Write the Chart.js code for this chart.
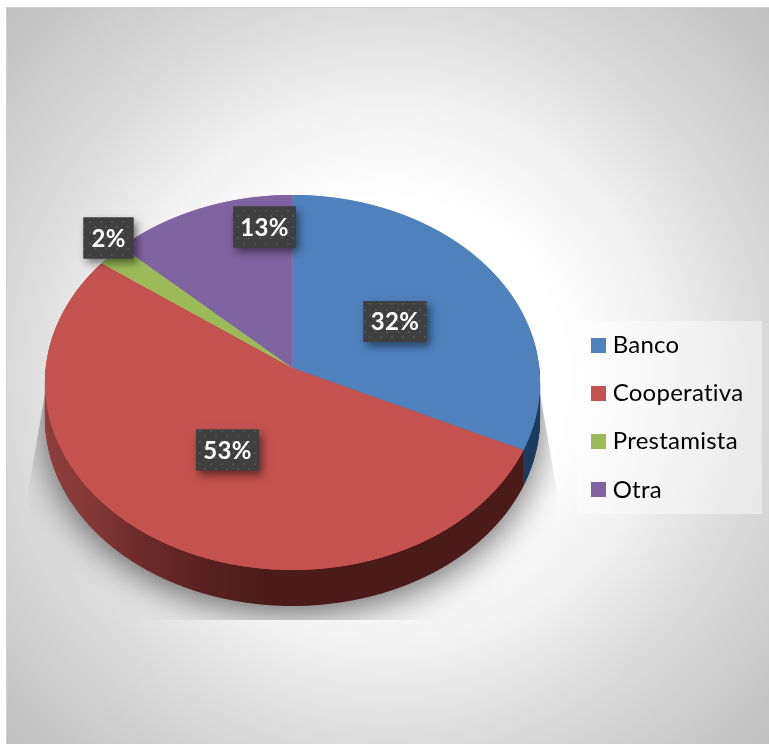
<!DOCTYPE html>
<html>
<head>
<meta charset="utf-8">
<script src="https://cdn.jsdelivr.net/npm/chart.js@4/dist/chart.umd.min.js"></script>
<style>html,body{margin:0;padding:0;background:#fff}canvas{display:block}</style>
</head>
<body>
<canvas id="c" width="769" height="744"></canvas>
<script>
const categories = ['Banco', 'Cooperativa', 'Prestamista', 'Otra'];
const values = [32, 53, 2, 13];
const valueLabels = ['32%', '53%', '2%', '13%'];
const sliceColors = ['#4f81bd', '#c4524f', '#9bbb59', '#8064a2'];
const wallColors = ['#1b3a5e', '#4b1b1a', '#5d7036', '#4c3c61'];

const labelOffsets = [[102.5, -46.5], [-65, 82], [-184, -130], [-28, -141]];
const LABEL_BOX = {w3: 63, w2: 50, h: 41};
// perspective of the tilted disc: rows are projected one at a time
const TILT = -0.0773, PERSP_Y = 186.4, PERSP_X = 246.8, DEPTH = 36;
const RIM_TOP = -173, RIM_BOTTOM = 202, RIM_CENTER = 14.5, RIM_RY = 187.5;
const chartWidth = 769;

function swatch(color) {
  const s = document.createElement('canvas');
  s.width = 15; s.height = 15;
  const g = s.getContext('2d');
  g.fillStyle = color; g.fillRect(0, 0, 15, 15);
  return s;
}
function dotPattern(ctx) {
  const s = document.createElement('canvas');
  s.width = 11; s.height = 11;
  const g = s.getContext('2d');
  g.fillStyle = '#3f3f3f'; g.fillRect(0, 0, 11, 11);
  g.fillStyle = '#525252'; g.fillRect(1, 1, 2, 2); g.fillRect(6, 6, 2, 2);
  return ctx.createPattern(s, 'repeat');
}
// draw the library's arc element through the perspective, row by row
function drawProjected(ctx, arc, cx, cy, R, dy, firstRow, lastRow) {
  for (let y = firstRow; y < lastRow; y++) {
    const t = y + 0.5 - dy - cy;
    const v = t / (PERSP_Y - TILT * t);
    const d = 1 + TILT * v;
    ctx.save();
    ctx.beginPath(); ctx.rect(0, y, chartWidth, 1); ctx.clip();
    ctx.translate(cx, y + 0.5);
    ctx.scale(PERSP_X / d / R, PERSP_Y / (d * d) / R);
    ctx.translate(-cx, -(cy + R * v));
    arc.draw(ctx);
    ctx.restore();
  }
}
const scene = {
  id: 'scene',
  beforeDraw(chart) {
    const ctx = chart.ctx, W = chart.width, H = chart.height;
    ctx.letterSpacing = '0.25px';
    ctx.save();
    ctx.fillStyle = '#ffffff'; ctx.fillRect(0, 0, W, H);
    const g = ctx.createRadialGradient(388, 376, 0, 388, 376, 532);
    g.addColorStop(0, '#ffffff'); g.addColorStop(0.33, '#ffffff');
    g.addColorStop(0.52, '#f1f1f1'); g.addColorStop(0.69, '#dcdcdc'); g.addColorStop(1, '#bfbfbf');
    ctx.fillStyle = g; ctx.fillRect(7, 8, W - 7, H - 8);
    ctx.fillStyle = '#d0d0d0'; ctx.fillRect(6, 7, W - 6, 1); ctx.fillRect(6, 7, 1, H - 7);
    ctx.fillStyle = 'rgba(255,255,255,0.42)'; ctx.fillRect(577, 321, 185, 193);
    ctx.restore();
  },
  afterLayout(chart) {
    const l = chart.legend;
    l.left = 572; l.top = 308.7; l.right = 769; l.bottom = 744;
  },
  beforeDatasetsDraw(chart) {
    const ctx = chart.ctx;
    const arcs = chart.getDatasetMeta(0).data;
    const cx = arcs[0].x, cy = arcs[0].y, R = arcs[0].outerRadius;

    // soft shadow on the floor under the pie
    ctx.save();
    ctx.beginPath();
    ctx.moveTo(cx - 245, cy + 10); ctx.lineTo(cx - 264, cy + 122);
    ctx.lineTo(cx - 264, cy + 252); ctx.lineTo(cx + 264, cy + 252);
    ctx.lineTo(cx + 264, cy + 122); ctx.lineTo(cx + 245, cy + 10);
    ctx.closePath(); ctx.clip();
    ctx.shadowColor = 'rgba(0,0,0,0.6)'; ctx.shadowBlur = 36; ctx.shadowOffsetY = 7;
    ctx.fillStyle = '#999';
    ctx.beginPath();
    ctx.ellipse(cx, cy + RIM_CENTER + DEPTH, R, RIM_RY, 0, 0, Math.PI * 2);
    ctx.fill();
    ctx.restore();

    // side wall: slices that reach the front rim, repeated downwards
    const front = arcs.map((arc, i) => i).filter(i => arcs[i].startAngle < Math.PI);
    const walls = arcs.map((arc, i) => {
      const g = ctx.createLinearGradient(cx - R, 0, cx + R, 0);
      if (i === 1) {
        g.addColorStop(0, '#8f3e3c'); g.addColorStop(0.1, '#853a38');
        g.addColorStop(0.2, '#6f2c2b'); g.addColorStop(0.33, '#5a2220');
      } else {
        g.addColorStop(0, wallColors[i]);
      }
      g.addColorStop(0.45, wallColors[i]);
      g.addColorStop(1, wallColors[i]);
      return g;
    });
    for (let dy = DEPTH; dy >= 1; dy--) {
      front.forEach(i => {
        const own = arcs[i].options;
        arcs[i].options = Object.assign({}, own, {backgroundColor: walls[i]});
        drawProjected(ctx, arcs[i], cx, cy, R, dy, cy + dy, cy + RIM_BOTTOM + dy);
        arcs[i].options = own;
      });
    }
    // top face, painted twice so the joins between slices stay closed
    for (let pass = 0; pass < 2; pass++) {
      arcs.forEach(arc => drawProjected(ctx, arc, cx, cy, R, 0, cy + RIM_TOP, cy + RIM_BOTTOM));
    }

    // value labels
    const pat = dotPattern(ctx);
    valueLabels.forEach((txt, i) => {
      const lx = cx + labelOffsets[i][0], ly = cy + labelOffsets[i][1];
      const w = txt.length > 2 ? LABEL_BOX.w3 : LABEL_BOX.w2, h = LABEL_BOX.h;
      ctx.save();
      ctx.shadowColor = 'rgba(0,0,0,0.5)'; ctx.shadowBlur = 8;
      ctx.shadowOffsetX = 3; ctx.shadowOffsetY = 4;
      ctx.fillStyle = '#3f3f3f';
      ctx.fillRect(lx - w / 2, ly - h / 2, w, h);
      ctx.shadowColor = 'transparent';
      ctx.fillStyle = pat;
      ctx.fillRect(lx - w / 2, ly - h / 2, w, h);
      ctx.fillStyle = '#ffffff';
      ctx.font = 'bold 24px Lato';
      ctx.textAlign = 'center'; ctx.textBaseline = 'middle';
      ctx.fillText(txt, lx, ly + 1);
      ctx.restore();
    });
    return false;
  }
};
new Chart(document.getElementById('c'), {
  type: 'pie',
  data: {
    labels: categories,
    datasets: [{data: values, backgroundColor: sliceColors, borderWidth: 0}]
  },
  options: {
    responsive: false,
    animation: false,
    layout: {padding: {left: 45, right: 229, top: 120.5, bottom: 128.5}},
    plugins: {
      tooltip: {enabled: false},
      legend: {
        position: 'chartArea',
        align: 'start',
        labels: {
          color: '#404040',
          font: {family: 'Lato', size: 24},
          padding: 24.3,
          usePointStyle: true,
          pointStyleWidth: 4.4,
          generateLabels: () => categories.map((t, i) => ({
            text: t, fillStyle: sliceColors[i], strokeStyle: sliceColors[i],
            lineWidth: 0, pointStyle: swatch(sliceColors[i]), index: i
          }))
        }
      }
    }
  },
  plugins: [scene]
});
</script>
</body>
</html>
